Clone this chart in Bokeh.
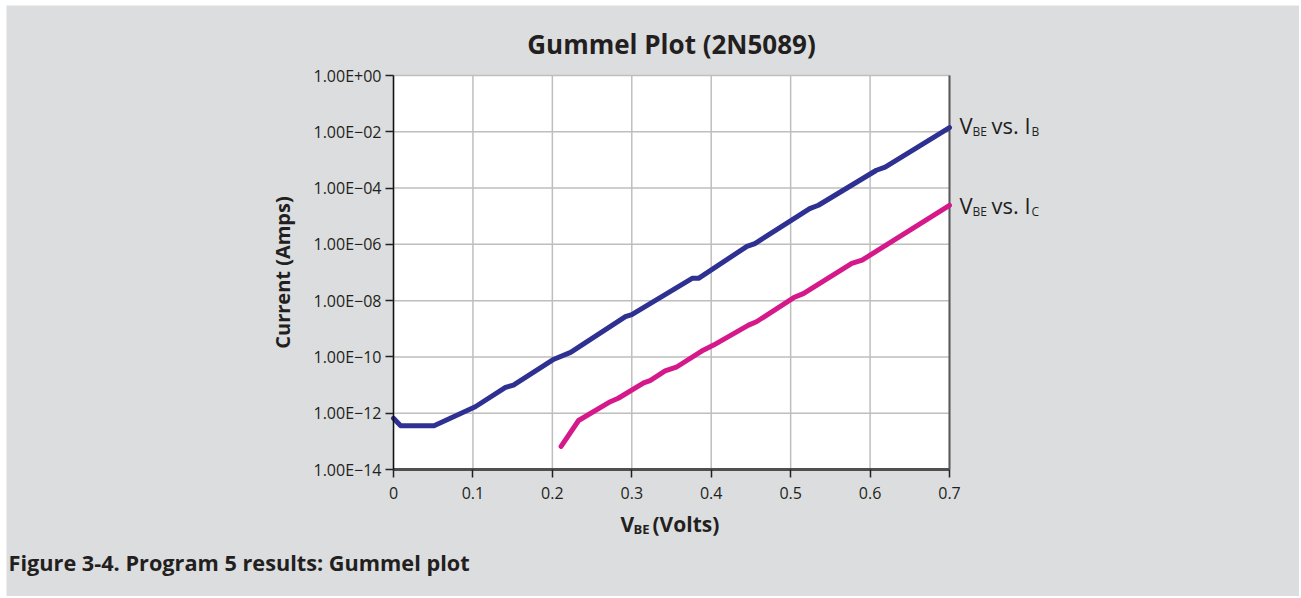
import math
from bokeh.plotting import figure
from bokeh.models import FixedTicker, Range1d
from bokeh.core.properties import value
from bokeh.embed import file_html
from bokeh.resources import INLINE

# ---- data ----
vbe_ib = [0.000, 0.009, 0.051, 0.103, 0.141, 0.151, 0.202, 0.223, 0.292, 0.300,
          0.376, 0.384, 0.445, 0.455, 0.524, 0.535, 0.608, 0.619, 0.700]
ib = [6.6e-13, 3.6e-13, 3.6e-13, 1.7e-12, 8.3e-12, 1.0e-11, 8.3e-11, 1.45e-10, 2.7e-9, 3.2e-9,
      6.2e-8, 6.2e-8, 8.5e-7, 1.07e-6, 1.86e-5, 2.45e-5, 4.3e-4, 5.5e-4, 1.41e-2]
vbe_ic = [0.211, 0.233, 0.273, 0.283, 0.315, 0.323, 0.342, 0.356, 0.390, 0.403,
          0.447, 0.457, 0.504, 0.516, 0.577, 0.590, 0.700]
ic = [6.6e-14, 5.5e-13, 2.57e-12, 3.4e-12, 1.2e-11, 1.45e-11, 3.2e-11, 4.3e-11, 1.74e-10, 2.63e-10,
      1.35e-9, 1.78e-9, 1.29e-8, 1.78e-8, 2.1e-7, 2.75e-7, 2.45e-5]

x_ticks = [0, 0.1, 0.2, 0.3, 0.4, 0.5, 0.6, 0.7]
x_tick_labels = ["0", "0.1", "0.2", "0.3", "0.4", "0.5", "0.6", "0.7"]
y_ticks = [1e-14, 1e-12, 1e-10, 1e-8, 1e-6, 1e-4, 1e-2, 1e0]
y_tick_labels = ["1.00E\u221214", "1.00E\u221212", "1.00E\u221210", "1.00E\u221208",
                 "1.00E\u221206", "1.00E\u221204", "1.00E\u221202", "1.00E+00"]

title_text = "Gummel Plot (2N5089)"
ylabel_text = "Current (Amps)"
xlabel_main = "V"
xlabel_sub = "BE"
xlabel_rest = "(Volts)"
series_main = ["V", "vs. I"]
series_sub = [["BE", "B"], ["BE", "C"]]
caption_text = "Figure 3-4. Program 5 results: Gummel plot"

BLUE = "#2E3192"
PINK = "#D6198A"
BG = "#DCDDDF"
TXT = "#231F20"
GRID = "#BEBEBE"
FONT = "Open Sans"

# ---- layout (page pixels) ----
W, H = 1299, 596
PX0, PX1 = 393, 949      # x = first / last tick
PY0, PY1 = 469, 75       # y = first / last tick
PANEL = (6, 5)           # top-left corner of the grey panel
BL = -9                  # baseline correction for alphabetic text

x0, x1 = x_ticks[0], x_ticks[-1]
sx = (PX1 - PX0) / (x1 - x0)
l0, l1 = math.log10(y_ticks[0]), math.log10(y_ticks[-1])
sy = (PY0 - PY1) / (l1 - l0)


def px_to_x(px):
    return x0 + (px - PX0) / sx


def py_to_y(py):
    return 10 ** (l0 - (py - PY0) / sy)


xr = Range1d(px_to_x(0), px_to_x(W))
yr = Range1d(py_to_y(H), py_to_y(0))

p = figure(width=W, height=H, x_range=xr, y_range=yr, y_axis_type="log",
           output_backend="svg", toolbar_location=None, min_border=0)
p.background_fill_color = "white"
p.border_fill_color = "white"
p.outline_line_color = None
p.xgrid.visible = False
p.ygrid.visible = False

# grey panel
p.quad(left=[px_to_x(PANEL[0])], right=[px_to_x(W + 5)], bottom=[py_to_y(H + 5)],
       top=[py_to_y(PANEL[1])], fill_color=BG, line_color=None)
# plot area background
p.quad(left=[x0], right=[x1], bottom=[y_ticks[0]], top=[y_ticks[-1]],
       fill_color="white", line_color=None)
# grid lines
p.segment(x0=x_ticks, x1=x_ticks, y0=[y_ticks[0]] * len(x_ticks), y1=[y_ticks[-1]] * len(x_ticks),
          line_color=GRID, line_width=1.5)
p.segment(x0=[x0] * len(y_ticks), x1=[x1] * len(y_ticks), y0=y_ticks, y1=y_ticks,
          line_color=GRID, line_width=1.5)
# right border
p.segment(x0=[x1], x1=[x1], y0=[y_ticks[0]], y1=[y_ticks[-1]], line_color="#5A5A5A", line_width=2)

# axes
p.xaxis.fixed_location = y_ticks[0]
p.xaxis.bounds = (x0, x1)
p.yaxis.fixed_location = x0
p.yaxis.bounds = (y_ticks[0], y_ticks[-1])
p.xaxis.ticker = FixedTicker(ticks=x_ticks)
p.xaxis.major_label_overrides = {t: l for t, l in zip(x_ticks, x_tick_labels)}
p.yaxis.ticker = FixedTicker(ticks=y_ticks)
p.yaxis.major_label_overrides = {t: l for t, l in zip(y_ticks, y_tick_labels)}
for ax in (p.xaxis, p.yaxis):
    ax.major_label_text_font = FONT
    ax.major_label_text_font_size = "16px"
    ax.major_label_text_color = TXT
    ax.major_tick_out = 8
    ax.major_tick_in = 0
    ax.minor_tick_line_color = None
    ax.major_tick_line_color = "#222222"
    ax.major_tick_line_width = 1.5
p.yaxis.major_label_standoff = 4
p.xaxis.major_label_standoff = 9
p.yaxis.axis_line_color = "#111111"
p.yaxis.axis_line_width = 1.5
p.xaxis.axis_line_color = "#4F4F4F"
p.xaxis.axis_line_width = 3

# series
p.line(vbe_ib, ib, line_color=BLUE, line_width=5, line_cap="round", line_join="round")
p.line(vbe_ic, ic, line_color=PINK, line_width=5, line_cap="round", line_join="round")


def txt(text, x, y, xo, yo, size, bold=False, align="left", baseline="alphabetic", angle=0.0):
    if baseline == "alphabetic":
        yo = yo + BL
    p.text(x=[x], y=[y], text=[text], x_offset=xo, y_offset=yo, angle=angle,
           text_font=value(FONT), text_font_size=value(f"{size}px"),
           text_font_style=value("bold" if bold else "normal"), text_color=TXT,
           text_align=align, text_baseline=baseline)


xmid = (x0 + x1) / 2
ymid = 10 ** ((l0 + l1) / 2)

# title
txt(title_text, xmid, y_ticks[-1], 0, -23, 26, bold=True, align="center")
# y label
txt(ylabel_text, x0, ymid, -111, 0, 20, bold=True, align="center", baseline="middle",
    angle=math.pi / 2)
# x label with subscript
txt(xlabel_main, xmid, y_ticks[0], -51, 63, 21, bold=True)
txt(xlabel_sub, xmid, y_ticks[0], -38, 68, 13, bold=True)
txt(xlabel_rest, xmid, y_ticks[0], -19, 63, 21, bold=True)

# series labels at line ends
for yv, dy, subs in ((ib[-1], 6.3, series_sub[0]), (ic[-1], 8.4, series_sub[1])):
    txt(series_main[0], x1, yv, 10, dy, 22)
    txt(subs[0], x1, yv, 23, dy + 7, 12)
    txt(series_main[1], x1, yv, 42, dy, 22)
    txt(subs[1], x1, yv, 82, dy + 7, 12)

# caption
txt(caption_text, x0, y_ticks[0], -385, 102, 21.7, bold=True)

open("out.html", "w").write(file_html(p, INLINE))
